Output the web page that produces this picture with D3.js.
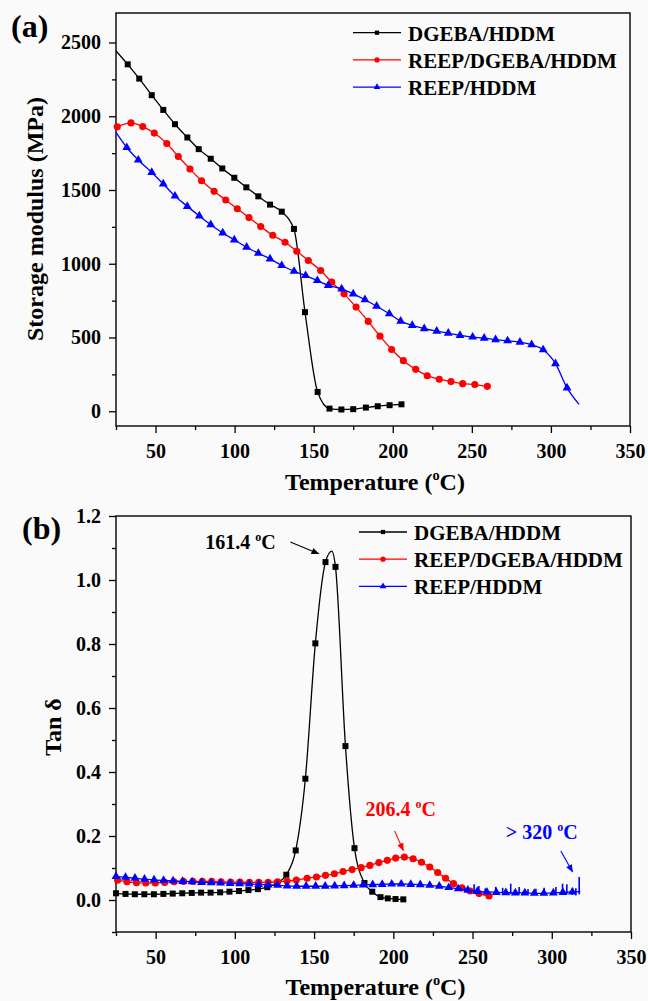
<!DOCTYPE html>
<html>
<head>
<meta charset="utf-8">
<script src="https://cdn.jsdelivr.net/npm/d3@7"></script>
<style>
body { margin: 0; background: #fafafa; }
svg { display: block; }
text { font-family: "Liberation Serif", "Times New Roman", serif; font-weight: bold; }
</style>
</head>
<body>
<svg width="648" height="1001"></svg>
<script>
// ---- data ----
const seriesNames = ['DGEBA/HDDM', 'REEP/DGEBA/HDDM', 'REEP/HDDM'];
const xTicks = [50, 100, 150, 200, 250, 300, 350];
const xMinor = [25, 75, 125, 175, 225, 275, 325];

// (a) storage modulus, MPa
const modTicks = [0, 500, 1000, 1500, 2000, 2500];
const modMinor = [250, 750, 1250, 1750, 2250];

const modBlackT = [32.4, 39.7, 47.6, 54.9, 62.3, 70.1, 77.3, 84.9, 92.2, 99.8, 107.4, 115.0, 122.4, 129.8, 137.5, 144.5, 152.5, 160.0, 167.5, 175.0, 183.0, 190.5, 198.0, 205.5];
const modBlackV = [2352, 2255, 2143, 2043, 1946, 1856, 1777, 1712, 1646, 1583, 1518, 1457, 1401, 1353, 1236, 672, 131, 18, 12, 14, 25, 34, 41, 47];
const modBlackEnds = [[25, 2443]];

const modRedT = [25.8, 34.5, 41.9, 49.2, 57.1, 64.4, 71.8, 79.1, 87.0, 94.4, 101.7, 109.1, 116.5, 124.1, 131.9, 139.3, 146.6, 154.4, 161.4, 169.2, 176.8, 184.5, 191.9, 199.3, 206.7, 214.5, 221.8, 229.4, 236.8, 244.2, 251.9, 259.8];
const modRedV = [1928, 1955, 1930, 1886, 1815, 1727, 1642, 1563, 1491, 1432, 1373, 1313, 1252, 1193, 1146, 1085, 1022, 954, 875, 796, 706, 609, 509, 419, 343, 284, 241, 217, 201, 187, 181, 169];
const modRedEnds = [[261.5, 168]];

const modBlueT = [31.8, 39.1, 47.6, 54.9, 62.3, 70.1, 77.7, 84.9, 92.5, 99.8, 107.6, 115.0, 122.4, 129.8, 137.6, 144.9, 152.3, 159.2, 167.7, 175.0, 182.4, 189.8, 197.8, 205.0, 212.3, 219.9, 227.8, 235.1, 242.5, 250.5, 257.8, 265.0, 272.6, 280.4, 287.8, 295.1, 302.9, 310.2];
const modBlueV = [1788, 1703, 1619, 1541, 1459, 1389, 1324, 1265, 1209, 1162, 1112, 1071, 1033, 988, 949, 920, 886, 853, 830, 796, 756, 712, 661, 611, 582, 560, 543, 530, 514, 503, 496, 485, 478, 469, 451, 417, 323, 158];
const modBlueEnds = [[25, 1890], [317.8, 47]];

// (b) tan delta
const tanTicks = [0, 0.2, 0.4, 0.6, 0.8, 1.0, 1.2];
const tanMinor = [-0.1, 0.1, 0.3, 0.5, 0.7, 0.9, 1.1];

const tanBlackT = [25, 31, 36.9, 42.9, 48.9, 54.9, 60.8, 66.8, 72.8, 78.7, 84.7, 90.7, 96.6, 102.6, 108.6, 114.6, 120.5, 126.5, 132.5, 138.4, 144.5, 150.8, 157.2, 163.5, 169.8, 175.5, 181.8, 186.7, 191.9, 196.5, 201.4, 206.3];
const tanBlackV = [0.021, 0.019, 0.018, 0.018, 0.018, 0.019, 0.020, 0.021, 0.022, 0.023, 0.023, 0.024, 0.026, 0.028, 0.031, 0.034, 0.040, 0.052, 0.079, 0.155, 0.379, 0.802, 1.056, 1.041, 0.481, 0.162, 0.053, 0.026, 0.009, 0.005, 0.003, 0.002];
const tanBlackEnds = [[161.2, 1.09]];

const tanRedT = [26, 31.9, 37.9, 43.8, 49.8, 55.7, 61.6, 67.6, 73.5, 79.5, 85.4, 91.3, 97.3, 103.2, 109.2, 115.1, 121, 127, 132.9, 138.8, 145.6, 151.5, 157.2, 162.8, 168.3, 174.0, 179.7, 185.2, 190.9, 196.2, 201.5, 207, 212.5, 217.8, 223, 228, 233, 238, 243.3, 248.5, 254.1, 260.4];
const tanRedV = [0.062, 0.057, 0.054, 0.053, 0.053, 0.055, 0.057, 0.058, 0.058, 0.058, 0.058, 0.057, 0.056, 0.056, 0.055, 0.055, 0.055, 0.057, 0.059, 0.0625, 0.068, 0.072, 0.077, 0.082, 0.089, 0.095, 0.101, 0.108, 0.117, 0.124, 0.131, 0.134, 0.129, 0.118, 0.103, 0.086, 0.068, 0.051, 0.038, 0.028, 0.020, 0.0125];
const tanRedEnds = [[262, 0.012]];

const tanBlueT = [25, 31, 37, 43, 49, 55, 61, 67, 73, 79, 85, 91, 97, 103, 109, 115, 121, 127, 133, 139, 145, 151, 157, 163, 169, 175, 181, 187, 193, 199, 205, 211, 217, 223, 229, 235, 241, 247, 253, 259, 265, 271, 277, 283, 289, 295, 301, 307, 313];
const tanBlueV = [0.074, 0.071, 0.068, 0.065, 0.063, 0.061, 0.060, 0.058, 0.057, 0.055, 0.054, 0.053, 0.052, 0.051, 0.050, 0.049, 0.047, 0.046, 0.044, 0.043, 0.043, 0.043, 0.043, 0.044, 0.045, 0.046, 0.047, 0.048, 0.049, 0.050, 0.050, 0.049, 0.048, 0.046, 0.043, 0.039, 0.035, 0.031, 0.027, 0.025, 0.024, 0.023, 0.022, 0.022, 0.021, 0.021, 0.022, 0.024, 0.025];
const tanBlueEnds = [[318, 0.026]];
// noisy spikes at high temperature: [T, low, high]
const tanBlueSpikes = [[245, 0.026, 0.040], [251, 0.022, 0.049], [254, 0.020, 0.044], [258, 0.018, 0.036], [264.6, 0.018, 0.041], [269, 0.019, 0.038], [274.1, 0.018, 0.051], [279.4, 0.017, 0.041], [285, 0.018, 0.034], [290, 0.017, 0.035], [295.2, 0.016, 0.038], [302.6, 0.016, 0.041], [306.8, 0.017, 0.051], [309.5, 0.018, 0.049], [313.1, 0.016, 0.038], [315.2, 0.014, 0.037], [317.3, 0.018, 0.072]];

const colors = ['#000000', '#ff0000', '#0000ff'];
const shapes = [d3.symbolSquare, d3.symbolCircle, d3.symbolTriangle];
const shapeSize = [36, 40, 34];
const legendSize = [18, 22, 20];

const svg = d3.select('svg');
const defs = svg.append('defs');
colors.forEach((c, i) => {
    defs.append('marker')
        .attr('id', 'arr' + i)
        .attr('viewBox', '0 0 10 10')
        .attr('refX', 9).attr('refY', 5)
        .attr('markerWidth', 8).attr('markerHeight', 8)
        .attr('markerUnits', 'userSpaceOnUse')
        .attr('orient', 'auto')
        .append('path')
        .attr('d', 'M0,1 L10,5 L0,9 Z')
        .attr('fill', c);
});

function degText(sel, before, after, size) {
    sel.append('tspan').text(before);
    sel.append('tspan').attr('font-size', size * 0.6).attr('dy', -size * 0.42).text('o');
    sel.append('tspan').attr('dy', size * 0.42).text(after);
}

function drawPanel(p) {
    const xScale = d3.scaleLinear().domain([25, 350]).range([p.left, p.right]);
    const yScale = d3.scaleLinear().domain(p.yDomain).range([p.bottom, p.top]);
    const g = svg.append('g');

    // axes
    const xAxisG = g.append('g')
        .attr('transform', `translate(0,${p.bottom})`)
        .call(d3.axisBottom(xScale).tickValues(xTicks).tickSize(7).tickSizeOuter(0).tickPadding(10.5));
    g.append('g')
        .attr('transform', `translate(0,${p.bottom})`)
        .call(d3.axisBottom(xScale).tickValues(xMinor).tickSize(4).tickSizeOuter(0).tickFormat(''));
    const yAxisG = g.append('g')
        .attr('transform', `translate(${p.left},0)`)
        .call(d3.axisLeft(yScale).tickValues(p.yTicks).tickSize(7).tickSizeOuter(0).tickPadding(8).tickFormat(p.yFormat));
    g.append('g')
        .attr('transform', `translate(${p.left},0)`)
        .call(d3.axisLeft(yScale).tickValues(p.yMinor).tickSize(4).tickSizeOuter(0).tickFormat(''));
    g.selectAll('.domain').remove();
    g.selectAll('.tick line').attr('stroke', '#000').attr('stroke-width', 1.3);
    g.selectAll('.tick text')
        .attr('font-family', '"Liberation Serif", serif')
        .attr('font-weight', 'bold')
        .attr('font-size', 20)
        .attr('fill', '#000');

    g.append('rect')
        .attr('x', p.left).attr('y', p.top)
        .attr('width', p.right - p.left).attr('height', p.bottom - p.top)
        .attr('fill', 'none').attr('stroke', '#000').attr('stroke-width', 1.4);

    // series
    const lineGenerator = d3.line()
        .x(d => xScale(d[0]))
        .y(d => yScale(d[1]))
        .curve(d3.curveMonotoneX);

    p.series.forEach((s, i) => {
        const pts = d3.zip(s.t, s.v);
        const linePts = pts.concat(s.ends || []).sort((a, b) => a[0] - b[0]);
        g.append('path')
            .attr('d', lineGenerator(linePts))
            .attr('fill', 'none')
            .attr('stroke', colors[i])
            .attr('stroke-width', 1.3);
        (s.spikes || []).forEach(sp => {
            g.append('path')
                .attr('d', `M${xScale(sp[0])},${yScale(sp[1])}V${yScale(sp[2])}`)
                .attr('stroke', colors[i])
                .attr('stroke-width', 1.6);
        });
        g.selectAll(null).data(pts).enter().append('path')
            .attr('transform', d => `translate(${xScale(d[0])},${yScale(d[1])})`)
            .attr('d', d3.symbol().type(shapes[i]).size(shapeSize[i]))
            .attr('fill', colors[i]);
    });

    // legend
    seriesNames.forEach((name, i) => {
        const y = p.legendY + i * 27.2;
        g.append('line')
            .attr('x1', p.legendX).attr('x2', p.legendX + 48)
            .attr('y1', y - 8).attr('y2', y - 8)
            .attr('stroke', colors[i]).attr('stroke-width', 1.3);
        g.append('path')
            .attr('transform', `translate(${p.legendX + 24},${y - 8})`)
            .attr('d', d3.symbol().type(shapes[i]).size(legendSize[i]))
            .attr('fill', colors[i]);
        g.append('text')
            .attr('x', p.legendX + 55).attr('y', y)
            .attr('font-size', 21)
            .text(name);
    });

    // titles
    const xt = g.append('text')
        .attr('x', (p.left + p.right) / 2 + 2)
        .attr('y', p.xTitleY)
        .attr('text-anchor', 'middle')
        .attr('font-size', 24);
    degText(xt, 'Temperature (', 'C)', 24);

    g.append('text')
        .attr('transform', `translate(${p.yTitleX},${p.yTitleY}) rotate(-90)`)
        .attr('text-anchor', 'middle')
        .attr('font-size', 24)
        .text(p.yTitle);

    g.append('text')
        .attr('x', p.labelX).attr('y', p.labelY)
        .attr('font-size', 32)
        .text(p.label);

    // annotations
    (p.notes || []).forEach(n => {
        const t = g.append('text')
            .attr('x', xScale(n.at[0])).attr('y', yScale(n.at[1]))
            .attr('font-size', 20)
            .attr('fill', colors[n.c]);
        degText(t, n.pre, 'C', 20);
        g.append('line')
            .attr('x1', xScale(n.from[0])).attr('y1', yScale(n.from[1]))
            .attr('x2', xScale(n.to[0])).attr('y2', yScale(n.to[1]))
            .attr('stroke', colors[n.c]).attr('stroke-width', 1.1)
            .attr('marker-end', `url(#arr${n.c})`);
    });
}

drawPanel({
    left: 116, right: 630, top: 13, bottom: 426,
    yDomain: [-100, 2700], yTicks: modTicks, yMinor: modMinor, yFormat: d3.format('d'),
    yTitle: 'Storage modulus (MPa)', yTitleX: 43, yTitleY: 219,
    xTitleY: 490, label: '(a)', labelX: 11, labelY: 37,
    legendX: 353, legendY: 40.7,
    series: [
        {t: modBlackT, v: modBlackV, ends: modBlackEnds},
        {t: modRedT, v: modRedV, ends: modRedEnds},
        {t: modBlueT, v: modBlueV, ends: modBlueEnds}
    ]
});

drawPanel({
    left: 116, right: 631, top: 516, bottom: 932,
    yDomain: [-0.1, 1.2], yTicks: tanTicks, yMinor: tanMinor, yFormat: d3.format('.1f'),
    yTitle: 'Tan δ', yTitleX: 61, yTitleY: 727,
    xTitleY: 995, label: '(b)', labelX: 22, labelY: 539,
    legendX: 359, legendY: 540,
    series: [
        {t: tanBlackT, v: tanBlackV, ends: tanBlackEnds},
        {t: tanRedT, v: tanRedV, ends: tanRedEnds},
        {t: tanBlueT, v: tanBlueV, ends: tanBlueEnds, spikes: tanBlueSpikes}
    ],
    notes: [
        {pre: '161.4 ', at: [81.3, 1.097], from: [135, 1.119], to: [152.9, 1.082], c: 0},
        {pre: '206.4 ', at: [182.4, 0.2625], from: [200.8, 0.216], to: [206.3, 0.155], c: 1},
        {pre: '> 320 ', at: [271, 0.19], from: [305.7, 0.153], to: [313.1, 0.088], c: 2}
    ]
});
</script>
</body>
</html>
